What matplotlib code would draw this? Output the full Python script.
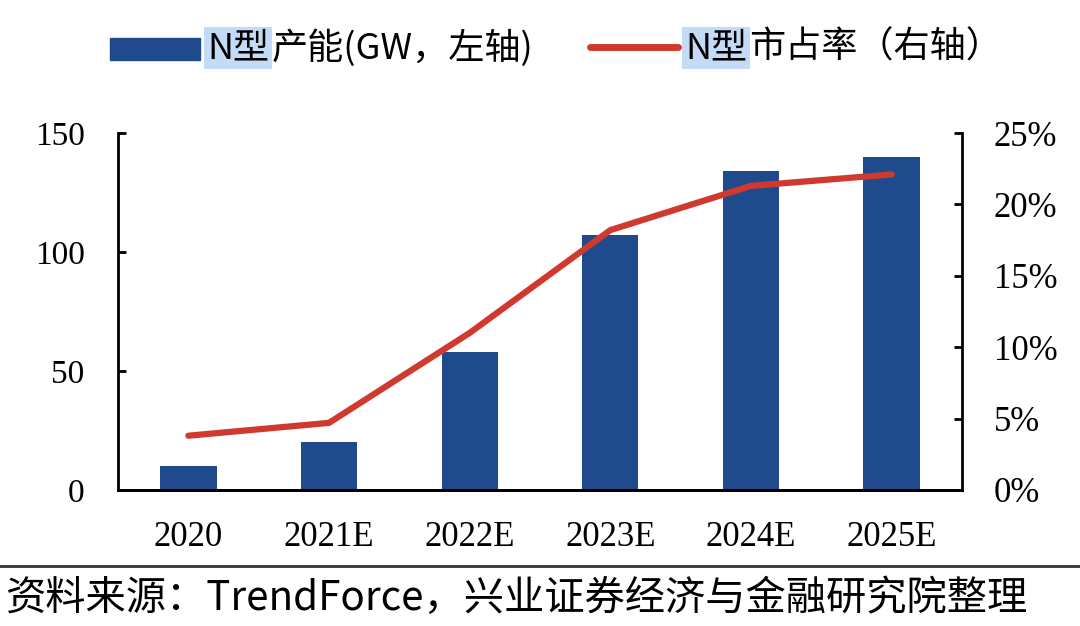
import numpy as np
import matplotlib.pyplot as plt
from matplotlib.patches import Rectangle
from matplotlib.lines import Line2D

years = ["2020", "2021E", "2022E", "2023E", "2024E", "2025E"]
capacity = [10, 20, 58, 107, 134, 140]          # GW, left axis
share = [3.8, 4.7, 11.0, 18.2, 21.3, 22.1]      # %, right axis

bar_color = "#1f4a8c"
line_color = "#d0392e"
hl_color = "#c4dbf7"
serif = ["Liberation Serif", "Noto Sans CJK SC"]
cjk = ["Noto Sans CJK SC", "DejaVu Sans"]

fig = plt.figure(figsize=(10.8, 6.26), dpi=100)
ax = fig.add_axes([0.1093, 0.2173, 0.7814, 0.5702])
ax2 = ax.twinx()

x = np.arange(len(years))
ax.bar(x, capacity, width=0.4, color=bar_color, zorder=2)
ax2.plot(x, share, color=line_color, lw=4.5, solid_capstyle="round", zorder=3)

ax.set_xlim(-0.5, len(years) - 0.5)
ax.set_ylim(0, 150)
ax.set_yticks([0, 50, 100, 150])
ax2.set_ylim(0, 25)
ax2.set_yticks(np.arange(0, 26, 5))
ax2.set_yticklabels([f"{v}%" for v in range(0, 26, 5)])
ax.set_xticks(x)
ax.set_xticklabels(years)

for a in (ax, ax2):
    a.spines["top"].set_visible(False)
    for s in a.spines.values():
        s.set_linewidth(2)
    a.tick_params(axis="y", direction="in", length=6, width=2, labelsize=24)
ax2.spines["left"].set_visible(False)
ax.spines["right"].set_visible(False)
ax.tick_params(axis="y", pad=24)
ax2.tick_params(axis="y", pad=23, labelsize=25)
ax.tick_params(axis="x", length=0, pad=22, labelsize=25)
for lbl in ax.get_xticklabels() + ax.get_yticklabels() + ax2.get_yticklabels():
    lbl.set_family(serif)

# legend drawn by hand so "N型" can be highlighted
fig.add_artist(Rectangle((110 / 1080, 1 - 60 / 626), 90 / 1080, 22 / 626,
                         transform=fig.transFigure, color=bar_color))
fig.add_artist(Line2D([590 / 1080, 678 / 1080], [1 - 47 / 626] * 2,
                      transform=fig.transFigure, color=line_color, lw=5,
                      solid_capstyle="round"))

fig.canvas.draw()
renderer = fig.canvas.get_renderer()


def label(x0, rest):
    t = fig.text(x0 / 1080, 1 - 48 / 626, "N型", fontsize=26, family=cjk,
                 va="center", ha="left",
                 bbox=dict(boxstyle="square,pad=0.08", fc=hl_color, ec="none"))
    bb = t.get_window_extent(renderer)
    fig.text(bb.x1 / 1080 + 0.002, 1 - 48 / 626, rest, fontsize=26,
             family=cjk, va="center", ha="left")


label(207, "产能(GW，左轴)")
label(685, "市占率（右轴）")

fig.add_artist(Line2D([0, 1], [1 - 566 / 626] * 2, transform=fig.transFigure,
                      color="#333333", lw=2))
fig.text(6 / 1080, 1 - 598 / 626, "资料来源：TrendForce，兴业证券经济与金融研究院整理",
         fontsize=29, family=cjk, va="center", ha="left")

fig.savefig("out.png", dpi=100)
